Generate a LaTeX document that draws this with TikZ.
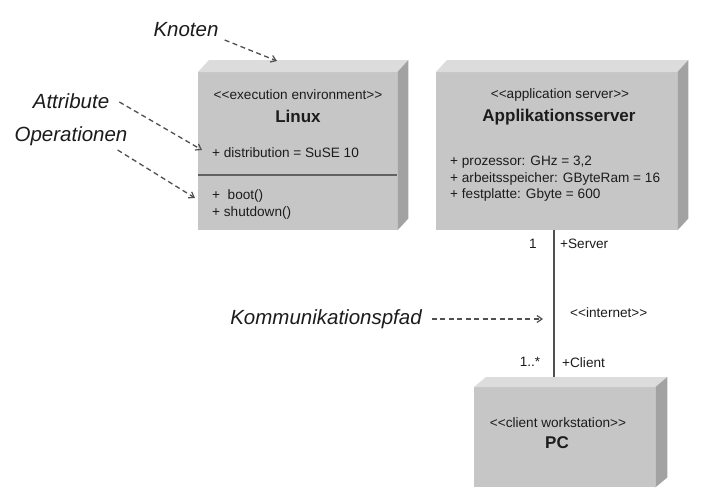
\documentclass[tikz,border=0pt]{standalone}
\usepackage{fontspec}
\setmainfont{Liberation Sans}
\usetikzlibrary{arrows.meta}
\definecolor{facefront}{HTML}{C6C6C6}
\definecolor{facetop}{HTML}{DCDCDC}
\definecolor{faceside}{HTML}{A2A2A2}
\definecolor{inkgray}{HTML}{505050}
\definecolor{txt}{HTML}{1C1C1C}
% stereotype brackets, kept as two separate angle characters
\newcommand{\stlt}{<{}<}
\newcommand{\stgt}{>{}>}
\tikzset{
  front/.style={fill=facefront, draw=none, rectangle, anchor=north west,
    inner sep=0pt, minimum width=#1},
  smalltxt/.style={font=\fontsize{13.6}{16.5}\selectfont, text=txt, inner sep=0pt},
  nametxt/.style={font=\fontsize{17}{20}\selectfont\bfseries, text=txt, inner sep=0pt},
  labeltxt/.style={font=\fontsize{20.5}{24}\selectfont\itshape, text=txt, inner sep=0pt},
  hint/.style={draw=inkgray, line width=1.3pt, dash pattern=on 5pt off 3.5pt,
    -{Straight Barb[length=5pt,width=7pt,line width=1.2pt]}},
  path/.style={draw=inkgray, line width=1.5pt},
}
\begin{document}
\begin{tikzpicture}[x=1pt,y=-1pt]
\useasboundingbox[fill=white] (0,0) rectangle (710,499);

% communication path (behind the client node)
\coordinate (srvfoot) at (554,230);
\coordinate (clitop) at (554,378);
\draw[path] (srvfoot) -- (clitop);

% node front faces
\node[front=199pt, minimum height=158pt] (linux) at (198,72) {};
\node[front=241pt, minimum height=158pt] (app) at (436,72) {};
\node[front=181pt, minimum height=100pt] (pc) at (474,387) {};

% top and side faces of the boxes
\foreach \n/\dx/\dy in {linux/11/12, app/11/12, pc/12/10}{
  \fill[facetop] (\n.north west) -- ++(\dx,-\dy) -- ([shift={(\dx,-\dy)}]\n.north east) -- (\n.north east) -- cycle;
  \fill[faceside] (\n.north east) -- ++(\dx,-\dy) -- ([shift={(\dx,-\dy)}]\n.south east) -- (\n.south east) -- cycle;
}

% Linux
\node[smalltxt] (linuxst) at (298,95) {\stlt execution environment\stgt};
\node[nametxt] (linuxname) at (298,116) {Linux};
\node[smalltxt, anchor=west] (linuxattr) at (212,153) {+ distribution = SuSE 10};
\draw[path, draw=inkgray!90] (linux.west |- 0,175) -- (linux.east |- 0,175);
\node[smalltxt, anchor=west] (linuxop1) at (212,196) {+ \ boot()};
\node[smalltxt, anchor=west] (linuxop2) at (212,213) {+ shutdown()};

% Applikationsserver
\node[smalltxt] (appst) at (560,95) {\stlt application server\stgt};
\node[nametxt] (appname) at (559,117) {Applikationsserver};
\node[smalltxt, anchor=west] (appa1) at (450,162) {+ prozessor: GHz = 3,2};
\node[smalltxt, anchor=west] (appa2) at (450,178.5) {+ arbeitsspeicher: GByteRam = 16};
\node[smalltxt, anchor=west] (appa3) at (450,195) {+ festplatte: Gbyte = 600};

% PC
\node[smalltxt] (pcst) at (558,423) {\stlt client workstation\stgt};
\node[nametxt] (pcname) at (557,443) {PC};

% association ends
\node[smalltxt] (mulsrv) at (533,244) {1};
\node[smalltxt, anchor=west] (rolesrv) at (560,244) {+Server};
\node[smalltxt, anchor=west] (stinet) at (570,313) {\stlt internet\stgt};
\node[smalltxt] (mulcli) at (530,362) {1..*};
\node[smalltxt, anchor=west] (rolecli) at (562,363) {+Client};

% explanatory labels
\node[labeltxt] (knoten) at (186,30) {Knoten};
\node[labeltxt] (attrib) at (71,101) {Attribute};
\node[labeltxt] (opera) at (71,136) {Operationen};
\node[labeltxt] (kpfad) at (326,319) {Kommunikationspfad};

\coordinate (knotentip) at (277,61);
\coordinate (attrtip) at (202,150);
\coordinate (optip) at (195,198);
\coordinate (pfadtip) at (543,319);

\draw[hint] ([shift={(6,10)}]knoten.east) -- (knotentip);
\draw[hint] ([shift={(10,1)}]attrib.east) -- (attrtip);
\draw[hint] ([shift={(-10,14)}]opera.east) -- (optip);
\draw[hint] ([xshift=10]kpfad.east) -- (pfadtip);
\end{tikzpicture}
\end{document}
